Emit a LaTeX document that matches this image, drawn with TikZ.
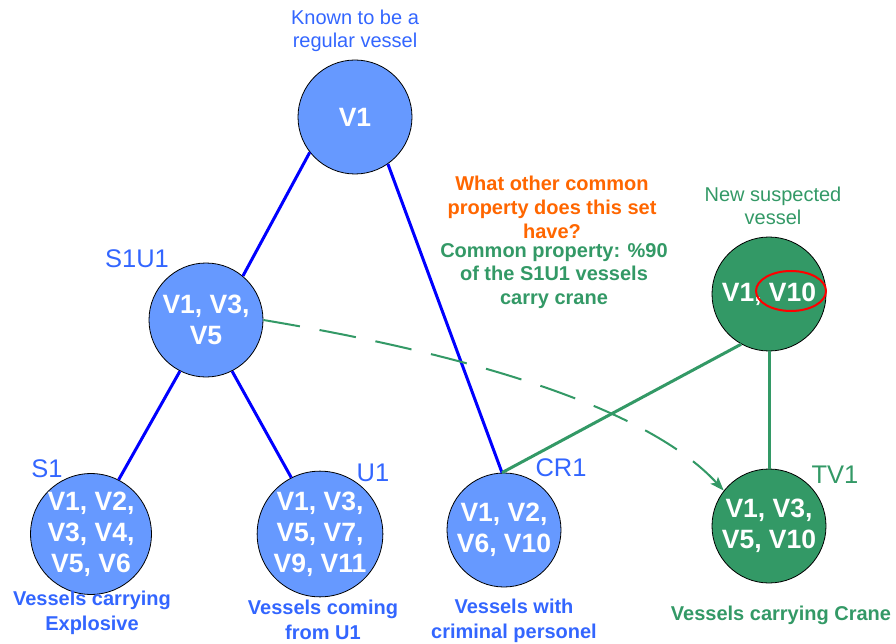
\documentclass[tikz,border=0pt]{standalone}
\usepackage{fontspec}
\setmainfont{Liberation Sans}
\usetikzlibrary{arrows.meta}
\definecolor{setblue}{HTML}{6699FF}
\definecolor{txtblue}{HTML}{3366FF}
\definecolor{edgeblue}{HTML}{0000FF}
\definecolor{setgreen}{HTML}{339966}
\definecolor{askorange}{HTML}{FF6600}
\tikzset{
  vset/.style={circle, draw=black, line width=0.8pt, minimum size=114pt, inner sep=0pt,
    text=white, align=center, font=\bfseries\fontsize{26.5}{31}\selectfont},
  blueset/.style={vset, fill=setblue},
  greenset/.style={vset, fill=setgreen},
  setname/.style={font=\fontsize{25.5}{28}\selectfont, inner sep=0pt},
  caption/.style={align=center, font=\bfseries\fontsize{20}{24.5}\selectfont, inner sep=0pt},
  note/.style={align=center, font=\fontsize{20}{23.5}\selectfont, inner sep=0pt},
  bluelink/.style={edgeblue, line width=3pt},
  greenlink/.style={setgreen, line width=3pt},
  hint/.style={setgreen, line width=2pt, dash pattern=on 37pt off 20pt,
    -{Stealth[length=14pt, width=10pt, inset=3pt]}}
}
\begin{document}
\begin{tikzpicture}[x=1pt, y=-1pt]
\useasboundingbox (0,0) rectangle (896,644);

% vessel sets
\node[blueset]  (v1)   at (355,117) {V1};
\node[blueset]  (s1u1) at (206,320) {V1, V3,\\V5};
\node[blueset]  (s1)   at (91,534)  {V1, V2,\\V3, V4,\\V5, V6};
\node[blueset]  (u1)   at (320,534) {V1, V3,\\V5, V7,\\V9, V11};
\node[blueset]  (cr1)  at (504,530) {V1, V2,\\V6, V10};
\node[greenset] (newv) at (769,294) {V1, V10};
\node[greenset] (tv1)  at (769,526) {V1, V3,\\V5, V10};

% highlight on the new member
\draw[red, line width=2pt] (791,291) ellipse [x radius=35, y radius=20];

% set names
\node[setname, text=txtblue]  (ns1u1) at (137,259) {S1U1};
\node[setname, text=txtblue]  (ns1)   at (47,469)  {S1};
\node[setname, text=txtblue]  (nu1)   at (373,473) {U1};
\node[setname, text=txtblue]  (ncr1)  at (561,468) {CR1};
\node[setname, text=setgreen] (ntv1)  at (835,475) {TV1};

% hierarchy links
\draw[bluelink] (v1.218) -- (s1u1.50);
\draw[bluelink] (v1.305) -- (cr1.92);
\draw[bluelink] (s1u1.243) -- (s1.63);
\draw[bluelink] (s1u1.297) -- (u1.117);

% links of the new vessel
\draw[greenlink] (newv.241) -- (cr1.92);
\draw[greenlink] (newv.south) -- (tv1.north);

% inferred property
\draw[hint] (s1u1.east) .. controls (502,360) and (655,416) .. (tv1.142);

% annotations
\node[note, text=txtblue] (known) at (355,31) {Known to be a\\regular vessel};
\node[note, text=setgreen] (suspect) at (773,206) {New suspected\\vessel};
\node[align=center, font=\bfseries\fontsize{20}{24}\selectfont, inner sep=0pt, text=askorange]
  (ask) at (552,207) {What other common\\property does this set\\have?};
\node[align=center, font=\bfseries\fontsize{20}{23.5}\selectfont, inner sep=0pt, text=setgreen]
  (answer) at (554,276) {Common property: \%90\\of the S1U1 vessels\\carry crane};

% captions
\node[caption, text=txtblue]  (cs1)  at (92,613)  {Vessels carrying\\Explosive};
\node[caption, text=txtblue]  (cu1)  at (323,620) {Vessels coming\\from U1};
\node[caption, text=txtblue]  (ccr1) at (514,621) {Vessels with\\criminal personel};
\node[caption, text=setgreen] (ctv1) at (781,615) {Vessels carrying Crane};
\end{tikzpicture}
\end{document}
